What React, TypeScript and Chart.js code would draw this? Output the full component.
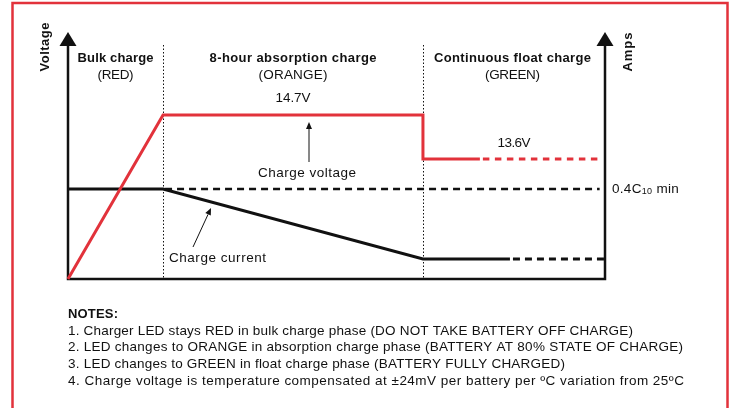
import React, { useEffect, useRef } from "react";
import { Chart, registerables } from "chart.js";

Chart.register(...registerables);

// ---- data (x: time across the charge cycle, 0..100; y: relative level, 0..100) ----
const phaseBounds = [0, 17.7, 66.1, 100];
const phaseTitles = ["Bulk charge", "8-hour absorption charge", "Continuous float charge"];
const phaseLeds = ["(RED)", "(ORANGE)", "(GREEN)"];

const voltageX = [0, 17.7, 66.1, 66.1, 76.7];
const voltageY = [0, 66.4, 66.4, 48.6, 48.6];
const floatVoltageX = [76.7, 99];
const floatVoltageY = [48.6, 48.6];

const currentX = [0, 17.7, 66.1, 82.3];
const currentY = [36.4, 36.4, 8.1, 8.1];
const floatCurrentX = [82.3, 100];
const floatCurrentY = [8.1, 8.1];
const minCurrentX = [17.7, 99];
const minCurrentY = [36.4, 36.4];

const absorptionVoltageLabel = "14.7V";
const floatVoltageLabel = "13.6V";
const leftAxisTitle = "Voltage";
const rightAxisTitle = "Amps";
const voltageCaption = "Charge voltage";
const currentCaption = "Charge current";
const notesTitle = "NOTES:";
const notes = [
  "1. Charger LED stays RED in bulk charge phase (DO NOT TAKE BATTERY OFF CHARGE)",
  "2. LED changes to ORANGE in absorption charge phase (BATTERY AT 80% STATE OF CHARGE)",
  "3. LED changes to GREEN in float charge phase (BATTERY FULLY CHARGED)",
  "4. Charge voltage is temperature compensated at \u00b124mV per battery per \u00baC variation from 25\u00baC",
];

const RED = "#e2323b";
const INK = "#111111";
const FONT = "'Liberation Sans', Arial, Helvetica, sans-serif";
const REG = `13.5px ${FONT}`;
const BOLD = `bold 13px ${FONT}`;

const pts = (xs: number[], ys: number[]) => xs.map((x, i) => ({ x, y: ys[i] }));

function drawFitted(
  ctx: CanvasRenderingContext2D,
  text: string,
  x: number,
  y: number,
  width: number,
  align: "left" | "center"
) {
  const c = ctx as any;
  const supports = "letterSpacing" in c;
  if (supports) c.letterSpacing = "0px";
  const w = ctx.measureText(text).width;
  let ls = 0;
  if (supports && text.length > 1) {
    ls = (width - w) / (text.length - 1);
    ls = Math.max(-1, Math.min(2.5, ls));
    c.letterSpacing = ls + "px";
  }
  const total = w + ls * (text.length - 1);
  const left = align === "center" ? x - total / 2 : x;
  ctx.textAlign = "left";
  ctx.fillText(text, left, y);
  if (supports) c.letterSpacing = "0px";
}

function arrow(ctx: CanvasRenderingContext2D, x1: number, y1: number, x2: number, y2: number) {
  const ang = Math.atan2(y2 - y1, x2 - x1);
  const hl = 7;
  const hw = 3;
  const bx = x2 - hl * Math.cos(ang);
  const by = y2 - hl * Math.sin(ang);
  ctx.strokeStyle = INK;
  ctx.fillStyle = INK;
  ctx.lineWidth = 1;
  ctx.setLineDash([]);
  ctx.beginPath();
  ctx.moveTo(x1, y1);
  ctx.lineTo(bx, by);
  ctx.stroke();
  ctx.beginPath();
  ctx.moveTo(x2, y2);
  ctx.lineTo(bx + hw * Math.sin(ang), by - hw * Math.cos(ang));
  ctx.lineTo(bx - hw * Math.sin(ang), by + hw * Math.cos(ang));
  ctx.closePath();
  ctx.fill();
}

const diagramPlugin = {
  id: "diagram",
  beforeDraw(chart: any) {
    const ctx: CanvasRenderingContext2D = chart.ctx;
    ctx.save();
    ctx.fillStyle = "#ffffff";
    ctx.fillRect(0, 0, chart.width, chart.height);
    ctx.strokeStyle = RED;
    ctx.lineWidth = 2.5;
    ctx.strokeRect(12.5, 3, 715, 430);
    ctx.restore();
  },
  beforeDatasetsDraw(chart: any) {
    const ctx: CanvasRenderingContext2D = chart.ctx;
    const { left, right, top, bottom } = chart.chartArea;
    const xs = chart.scales.x;
    ctx.save();
    // phase dividers
    ctx.strokeStyle = INK;
    ctx.lineWidth = 1;
    ctx.setLineDash([1.5, 2]);
    for (let i = 1; i < phaseBounds.length - 1; i++) {
      const px = Math.round(xs.getPixelForValue(phaseBounds[i])) + 0.5;
      ctx.beginPath();
      ctx.moveTo(px, top + 13);
      ctx.lineTo(px, bottom);
      ctx.stroke();
    }
    ctx.setLineDash([]);
    // axes
    ctx.lineWidth = 2.5;
    ctx.beginPath();
    ctx.moveTo(left, top + 12);
    ctx.lineTo(left, bottom);
    ctx.lineTo(right, bottom);
    ctx.lineTo(right, top + 12);
    ctx.stroke();
    ctx.fillStyle = INK;
    for (const ax of [left, right]) {
      ctx.beginPath();
      ctx.moveTo(ax, top);
      ctx.lineTo(ax - 8.5, top + 14);
      ctx.lineTo(ax + 8.5, top + 14);
      ctx.closePath();
      ctx.fill();
    }
    ctx.restore();
  },
  afterDatasetsDraw(chart: any) {
    const ctx: CanvasRenderingContext2D = chart.ctx;
    const xs = chart.scales.x;
    const ys = chart.scales.y;
    const { left, right } = chart.chartArea;
    ctx.save();
    ctx.fillStyle = INK;
    ctx.textBaseline = "middle";

    // axis titles
    ctx.font = BOLD;
    ctx.save();
    ctx.translate(left - 23, 47);
    ctx.rotate(-Math.PI / 2);
    drawFitted(ctx, leftAxisTitle, 0, 0, 49, "center");
    ctx.restore();
    ctx.save();
    ctx.translate(right + 23, 52);
    ctx.rotate(-Math.PI / 2);
    drawFitted(ctx, rightAxisTitle, 0, 0, 39, "center");
    ctx.restore();

    // phase titles
    const titleW = [76, 167, 157];
    const ledW = [36, 69, 55];
    for (let i = 0; i < phaseTitles.length; i++) {
      const cx = (xs.getPixelForValue(phaseBounds[i]) + xs.getPixelForValue(phaseBounds[i + 1])) / 2 - (i === 2 ? 1.5 : 0);
      ctx.font = BOLD;
      drawFitted(ctx, phaseTitles[i], cx, 58, titleW[i], "center");
      ctx.font = REG;
      drawFitted(ctx, phaseLeds[i], cx, 75, ledW[i], "center");
    }

    ctx.font = REG;
    // voltage values
    const absCx = (xs.getPixelForValue(phaseBounds[1]) + xs.getPixelForValue(phaseBounds[2])) / 2;
    drawFitted(ctx, absorptionVoltageLabel, absCx, ys.getPixelForValue(voltageY[1]) - 16.5, 35, "center");
    drawFitted(ctx, floatVoltageLabel, 514, ys.getPixelForValue(floatVoltageY[0]) - 16, 33, "center");

    // captions + pointers
    drawFitted(ctx, voltageCaption, 307, 173, 98, "center");
    arrow(ctx, 309, 162, 309, 122);
    drawFitted(ctx, currentCaption, 169, 258, 97, "left");
    arrow(ctx, 193, 247, 211, 208);

    // 0.4C10 min
    const my = ys.getPixelForValue(minCurrentY[0]);
    let tx = right + 7;
    const c = ctx as any;
    if ("letterSpacing" in c) c.letterSpacing = "0.3px";
    ctx.textAlign = "left";
    ctx.fillText("0.4C", tx, my);
    tx += ctx.measureText("0.4C").width;
    ctx.font = `9px ${FONT}`;
    ctx.fillText("10", tx, my + 2);
    tx += ctx.measureText("10").width;
    ctx.font = REG;
    ctx.fillText(" min", tx, my);
    if ("letterSpacing" in c) c.letterSpacing = "0px";

    // notes
    ctx.font = BOLD;
    drawFitted(ctx, notesTitle, left, 314, 50, "left");
    ctx.font = REG;
    const noteW = [565, 615, 497, 616];
    const noteY = [331, 347.5, 364, 381];
    notes.forEach((n, i) => drawFitted(ctx, n, left, noteY[i], noteW[i], "left"));
    ctx.restore();
  },
};

export default function App() {
  const ref = useRef<HTMLCanvasElement | null>(null);
  useEffect(() => {
    if (!ref.current) return;
    const base = { pointRadius: 0, tension: 0, fill: false, clip: false as any, borderCapStyle: "butt" as const };
    const chart = new Chart(ref.current, {
      type: "line",
      data: {
        datasets: [
          { ...base, data: pts(voltageX, voltageY), borderColor: RED, borderWidth: 3, borderJoinStyle: "miter" },
          { ...base, data: pts(floatVoltageX, floatVoltageY), borderColor: RED, borderWidth: 3, borderDash: [6.5, 5.5], borderDashOffset: 9 },
          { ...base, data: pts(currentX, currentY), borderColor: INK, borderWidth: 3, borderJoinStyle: "miter" },
          { ...base, data: pts(floatCurrentX, floatCurrentY), borderColor: INK, borderWidth: 3, borderDash: [7, 5], borderDashOffset: 9 },
          { ...base, data: pts(minCurrentX, minCurrentY), borderColor: INK, borderWidth: 2.5, borderDash: [7, 5], borderDashOffset: 10 },
        ] as any,
      },
      options: {
        responsive: false,
        animation: false,
        devicePixelRatio: 1,
        events: [],
        layout: { padding: { left: 68, right: 125, top: 32, bottom: 129 } },
        plugins: { legend: { display: false }, tooltip: { enabled: false }, title: { display: false } },
        scales: {
          x: { type: "linear", min: 0, max: 100, display: false },
          y: { type: "linear", min: 0, max: 100, display: false },
        },
      },
      plugins: [diagramPlugin],
    });
    return () => chart.destroy();
  }, []);
  return (
    <div style={{ position: "absolute", left: 0, top: 0, width: 730, height: 408, background: "#fff" }}>
      <canvas ref={ref} width={730} height={408} />
    </div>
  );
}
